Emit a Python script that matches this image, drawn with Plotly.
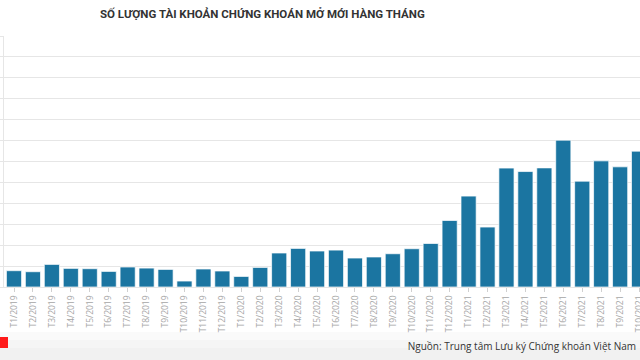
import plotly.graph_objects as go

months = ["T1/2019", "T2/2019", "T3/2019", "T4/2019", "T5/2019", "T6/2019",
          "T7/2019", "T8/2019", "T9/2019", "T10/2019", "T11/2019", "T12/2019",
          "T1/2020", "T2/2020", "T3/2020", "T4/2020", "T5/2020", "T6/2020",
          "T7/2020", "T8/2020", "T9/2020", "T10/2020", "T11/2020", "T12/2020",
          "T1/2021", "T2/2021", "T3/2021", "T4/2021", "T5/2021", "T6/2021",
          "T7/2021", "T8/2021", "T9/2021", "T10/2021"]
new_accounts = [15600, 14600, 21600, 17800, 17500, 14900,
                19100, 18100, 16800, 5700, 17200, 15300,
                10100, 18700, 32500, 36900, 34400, 35300,
                27700, 28700, 31800, 36600, 41600, 63600,
                86900, 57300, 113700, 110400, 113900, 140400,
                101200, 120600, 114900, 129900]

title_text = "SỐ LƯỢNG TÀI KHOẢN CHỨNG KHOÁN MỞ MỚI HÀNG THÁNG"
source_text = "Nguồn: Trung tâm Lưu ký Chứng khoán Việt Nam"

W, H = 640, 360
L, T, B = 4, 36, 73
PH = H - T - B
PW = W - L
grid = "#e6e6e6"


def px_x(px):
    return (px - L) / PW


def px_y(py):
    return (H - B - py) / PH


fig = go.Figure(go.Bar(
    x=months, y=new_accounts,
    marker=dict(color="#1b75a1", line=dict(color="rgba(255,255,255,0.7)", width=1)),
))

fig.update_layout(
    width=W, height=H,
    margin=dict(l=L, r=0, t=T, b=B, autoexpand=False),
    paper_bgcolor="white", plot_bgcolor="white",
    bargap=0.2, showlegend=False,
    font=dict(family="Open Sans, Roboto, sans-serif"),
    title=dict(
        text=source_text, xref="container", yref="container",
        x=636 / W, y=1 - 346 / H, xanchor="right", yanchor="middle",
        automargin=False,
        font=dict(family="Open Sans", size=10, color="#333333"),
    ),
    xaxis=dict(
        type="category", range=[-0.528, 33.05], automargin=False,
        tickangle=-90, tickfont=dict(size=8.5, color="#a6a6a6"),
        ticks="outside", ticklen=4, tickcolor="#d0d0d0",
        showline=True, linecolor=grid, showgrid=False,
    ),
    yaxis=dict(
        range=[0, 240000], dtick=20000, showticklabels=False, automargin=False,
        gridcolor=grid, zeroline=False,
        ticks="outside", ticklen=4, tickcolor=grid,
        showline=True, linecolor=grid,
    ),
)

fig.add_annotation(
    text="<b>" + title_text + "</b>", xref="paper", yref="paper",
    x=px_x(262), y=px_y(14), xanchor="center", yanchor="middle",
    showarrow=False,
    font=dict(family="Roboto", size=11.5, color="#333333"),
)
# bottom grey band (soft gradient)
for top, alpha in [(332, 0.25), (340, 0.3), (348, 0.35)]:
    fig.add_shape(type="rect", xref="paper", yref="paper",
                  x0=px_x(-10), x1=px_x(650), y0=px_y(362), y1=px_y(top),
                  fillcolor="rgba(235,235,235,%s)" % alpha, line_width=0, layer="below")
# red logo fragment
fig.add_shape(type="rect", xref="paper", yref="paper",
              x0=px_x(-4), x1=px_x(8), y0=px_y(348), y1=px_y(337),
              fillcolor="#ff1a1a", line_width=0)

fig.write_html("out.html", config={"displayModeBar": False},
               post_script="document.body.style.margin='0px';document.body.style.overflow='hidden';")
